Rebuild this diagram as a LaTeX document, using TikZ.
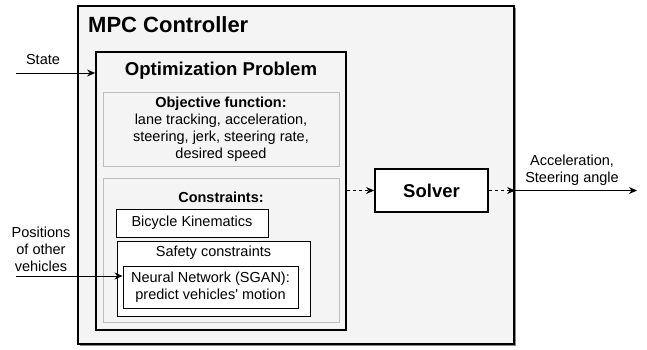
\documentclass[tikz,border=0pt]{standalone}
\usepackage{fontspec}
\setmainfont{Liberation Sans}
\usetikzlibrary{arrows.meta,positioning,calc,shadows}

\definecolor{panel}{HTML}{F4F4F4}
\definecolor{rim}{HTML}{BDBDBD}

\tikzset{
    outerbox/.style={draw, line width=2.2pt, fill=panel, minimum width=#1, inner sep=0pt},
    grouppanel/.style={draw=rim, line width=0.9pt, fill=panel, inner sep=0pt},
    plainbox/.style={draw, line width=0.9pt, fill=white, inner sep=0pt},
    txt/.style={font=\fontsize{14.5}{17}\selectfont, align=center, inner sep=0pt},
    flow/.style={line width=0.9pt, ->},
    dflow/.style={line width=0.9pt, ->, dashed, dash pattern=on 3pt off 3pt},
}

\begin{document}
\begin{tikzpicture}[x=1pt, y=-1pt, >={Stealth[length=8pt, width=7pt]}]

    \useasboundingbox (0,0) rectangle (647,349);

    %boxes
    \node (mpc) [outerbox=436pt, minimum height=338pt, drop shadow={shadow xshift=2pt, shadow yshift=-2pt, fill=black!45, opacity=1}] at (296,175) {};
    \node (optim) [outerbox=250pt, minimum height=278pt, line width=1.8pt] at (221,191) {};
    \node (objective) [grouppanel, minimum width=236pt, minimum height=74pt] at (221,129) {};
    \node (constraints) [grouppanel, minimum width=236pt, minimum height=144pt] at (221,250) {};
    \node (bicycle) [plainbox, minimum width=152pt, minimum height=28pt] at (192,223) {};
    \node (safety) [plainbox, minimum width=193pt, minimum height=75pt] at (213.5,278.5) {};
    \node (nn) [plainbox, minimum width=175pt, minimum height=42pt] at (210.5,287) {};
    \node (solver) [plainbox, line width=1.8pt, minimum width=113pt, minimum height=43pt,
        font=\fontsize{18.5}{22}\selectfont\bfseries] at (431.5,190.5) {Solver};

    %texts
    \node (mpcTitle) [txt, anchor=base west, font=\fontsize{22}{26}\selectfont\bfseries] at (88,32.5) {MPC Controller};
    \node (optimTitle) [txt, anchor=base, font=\fontsize{18.6}{22}\selectfont\bfseries] at (221,75) {Optimization Problem};
    \node (objectiveText) [txt] at (objective.center)
        {\textbf{Objective function:}\\lane tracking, acceleration,\\steering, jerk, steering rate,\\desired speed};
    \node (constraintsTitle) [txt, font=\fontsize{14.5}{17}\selectfont\bfseries] at (221,197) {Constraints:};
    \node (bicycleText) [txt] at (bicycle.center) {Bicycle Kinematics};
    \node (safetyText) [txt] at (213.5,253) {Safety constraints};
    \node (nnText) [txt] at (nn.center) {Neural Network (SGAN):\\predict vehicles\textquotesingle{} motion};

    \node (stateLabel) [txt, anchor=base] at (43,64) {State};
    \node (posLabel) [txt] at (41,249) {Positions\\of other\\vehicles};
    \node (outLabel) [txt] at (572,170) {Acceleration,\\Steering angle};

    %connectors
    \coordinate (stateIn) at (16,73);
    \coordinate (posIn) at (16,276);
    \coordinate (outEnd) at (637,191);

    \draw [flow] (stateIn) -- (stateIn -| optim.west);
    \draw [flow] (posIn) -- (posIn -| nn.west);
    \draw [dflow] (optim.east |- solver.west) -- (solver.west);
    \draw [dflow] (solver.east) -- (solver.east -| mpc.east);
    \draw [flow] (solver.east -| mpc.east) -- (outEnd |- solver.east);

\end{tikzpicture}
\end{document}
